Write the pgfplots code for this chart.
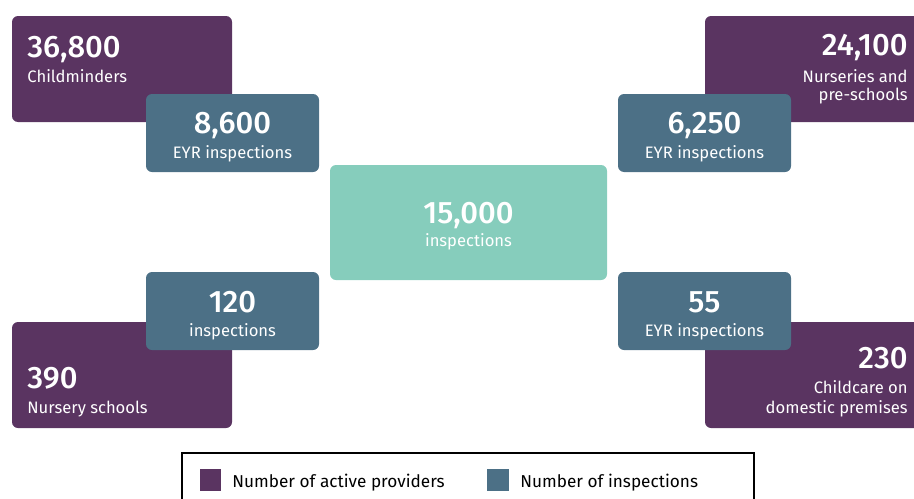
\documentclass[border=0pt]{standalone}
\usepackage{fontspec}
\setmainfont{Fira Sans}[BoldFont={Fira Sans Medium}]
\usepackage{pgfplots}
\pgfplotsset{compat=1.18}
\definecolor{provider}{RGB}{90,52,97}
\definecolor{insp}{RGB}{76,112,134}
\definecolor{total}{RGB}{134,205,188}
\tikzset{num/.style={text=white,inner sep=0pt,font=\fontsize{15.5}{18}\selectfont\bfseries},
  lab/.style={text=white,inner sep=0pt,font=\fontsize{8.3}{10}\selectfont},
  box/.style={rounded corners=3pt}}

\begin{document}
\begin{tikzpicture}
\begin{axis}[width=457pt,height=249pt,scale only axis,
  xmin=0,xmax=914,ymin=0,ymax=498,y dir=reverse,hide axis,clip=false]
\coordinate (ll) at (axis cs:0,498);
\coordinate (ur) at (axis cs:914,0);
% providers (purple) first, inspections (blue) on top
\fill[provider,box] (axis cs:12,16) rectangle (axis cs:232,122);
\fill[provider,box] (axis cs:705,16) rectangle (axis cs:930,122);
\fill[provider,box] (axis cs:12,322) rectangle (axis cs:232,428);
\fill[provider,box] (axis cs:705,322) rectangle (axis cs:930,428);
\fill[insp,box] (axis cs:146,94) rectangle (axis cs:319,172);
\fill[insp,box] (axis cs:618,94) rectangle (axis cs:791,172);
\fill[insp,box] (axis cs:146,272) rectangle (axis cs:319,350);
\fill[insp,box] (axis cs:618,272) rectangle (axis cs:791,350);
\fill[total,box] (axis cs:330,165) rectangle (axis cs:607,280);
% top left
\node[num,anchor=base west] at (axis cs:27,57) {36,800};
\node[lab,anchor=base west] at (axis cs:27,82) {Childminders};
\node[num,anchor=base] at (axis cs:232.5,133) {8,600};
\node[lab,anchor=base] at (axis cs:232.5,158) {EYR inspections};
% top right
\node[num,anchor=base east] at (axis cs:908,55) {24,100};
\node[lab,anchor=base east] at (axis cs:908,82) {Nurseries and};
\node[lab,anchor=base east] at (axis cs:908,100) {pre-schools};
\node[num,anchor=base] at (axis cs:704.5,133) {6,250};
\node[lab,anchor=base] at (axis cs:704.5,158) {EYR inspections};
% centre
\node[num,anchor=base] at (axis cs:468.5,223) {15,000};
\node[lab,anchor=base] at (axis cs:468.5,246) {inspections};
% bottom left
\node[num,anchor=base] at (axis cs:232.5,312) {120};
\node[lab,anchor=base] at (axis cs:232.5,336) {inspections};
\node[num,anchor=base west] at (axis cs:27,388) {390};
\node[lab,anchor=base west] at (axis cs:27,413) {Nursery schools};
% bottom right
\node[num,anchor=base] at (axis cs:704.5,312) {55};
\node[lab,anchor=base] at (axis cs:704.5,336) {EYR inspections};
\node[num,anchor=base east] at (axis cs:908,368) {230};
\node[lab,anchor=base east] at (axis cs:908,393) {Childcare on};
\node[lab,anchor=base east] at (axis cs:908,413) {domestic premises};
% legend
\draw[black,line width=1pt] (axis cs:182,510) -- (axis cs:182,453) -- (axis cs:754,453) -- (axis cs:754,510);
\fill[provider] (axis cs:200,469) rectangle (axis cs:221,491);
\node[lab,text=black,anchor=base west,font=\fontsize{8.6}{10}\selectfont] at (axis cs:232,487) {Number of active providers};
\fill[insp] (axis cs:487,469) rectangle (axis cs:509,491);
\node[lab,text=black,anchor=base west,font=\fontsize{8.6}{10}\selectfont] at (axis cs:520,487) {Number of inspections};
\end{axis}
\pgfresetboundingbox
\path (ll) rectangle (ur);
\end{tikzpicture}
\end{document}
